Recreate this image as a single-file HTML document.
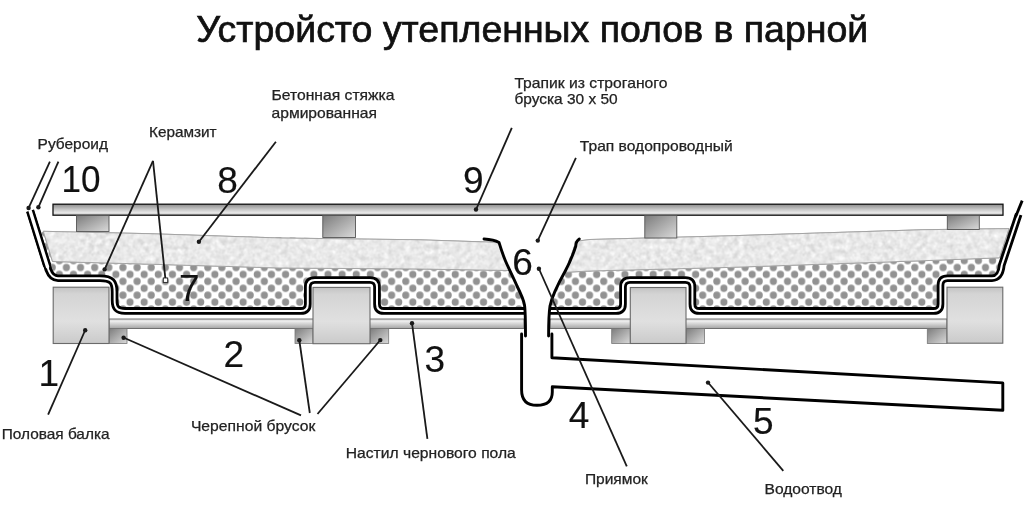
<!DOCTYPE html>
<html><head><meta charset="utf-8">
<style>
html,body{margin:0;padding:0;background:#fff;}
body{width:1024px;height:516px;overflow:hidden;}
svg{display:block;will-change:transform;}
text{font-family:"Liberation Sans",sans-serif;}
</style></head>
<body>
<svg width="1024" height="516" viewBox="0 0 1024 516">
<defs>
  <pattern id="dots" patternUnits="userSpaceOnUse" width="14.14" height="13.86" patternTransform="translate(66.4 267.5)">
    <rect width="14.14" height="13.86" fill="#fff"/>
    <circle cx="0" cy="0" r="3.6" fill="#929292"/>
    <circle cx="14.14" cy="0" r="3.6" fill="#929292"/>
    <circle cx="0" cy="13.86" r="3.6" fill="#929292"/>
    <circle cx="14.14" cy="13.86" r="3.6" fill="#929292"/>
    <circle cx="7.07" cy="6.93" r="3.6" fill="#929292"/>
  </pattern>
  <linearGradient id="plankG" x1="0" y1="0" x2="0" y2="1">
    <stop offset="0" stop-color="#8c8c8c"/>
    <stop offset="0.45" stop-color="#c4c4c4"/>
    <stop offset="0.75" stop-color="#e6e6e6"/>
    <stop offset="1" stop-color="#c8c8c8"/>
  </linearGradient>
  <linearGradient id="blockG" x1="0" y1="0" x2="1" y2="1">
    <stop offset="0" stop-color="#7c7c7c"/>
    <stop offset="1" stop-color="#dadada"/>
  </linearGradient>
  <linearGradient id="beamG" x1="0" y1="0" x2="0" y2="1">
    <stop offset="0" stop-color="#c2c2c2"/>
    <stop offset="0.12" stop-color="#d4d4d4"/>
    <stop offset="0.6" stop-color="#e0e0e0"/>
    <stop offset="1" stop-color="#cacaca"/>
  </linearGradient>
  <linearGradient id="boardG" x1="0" y1="0" x2="0" y2="1">
    <stop offset="0" stop-color="#d6d6d6"/>
    <stop offset="0.25" stop-color="#ececec"/>
    <stop offset="1" stop-color="#a4a4a4"/>
  </linearGradient>
  <filter id="noise" x="0" y="0" width="100%" height="100%" color-interpolation-filters="sRGB">
    <feTurbulence type="fractalNoise" baseFrequency="0.18" numOctaves="2" seed="7"/>
    <feColorMatrix type="matrix" values="0.33 0.33 0.33 0 0  0.33 0.33 0.33 0 0  0.33 0.33 0.33 0 0  0 0 0 0 1"/>
    <feComponentTransfer>
      <feFuncR type="linear" slope="0.35" intercept="0.74"/>
      <feFuncG type="linear" slope="0.35" intercept="0.74"/>
      <feFuncB type="linear" slope="0.35" intercept="0.74"/>
    </feComponentTransfer>
  </filter>
<clipPath id="concClip"><path d="M43.3 231.3 L150 233.7 L280 238 L420 239.8 L499 242.4 L505 260 L509 270.5 L420 269 L280 268 L150 264.2 L52.5 261.5 Z"/><path d="M576 241.3 L590 239.5 L730 235.8 L924 229.7 L1009 228.6 L999.5 257.8 L924 260.7 L730 267.4 L590 271 L566 272.3 Z"/></clipPath>
</defs>

<!-- Title -->
<text x="196.3" y="42.3" font-size="37" fill="#111" stroke="#111" stroke-width="0.7" textLength="672" lengthAdjust="spacingAndGlyphs">Устройсто утепленных полов в парной</text>

<!-- dots region left -->
<path d="M30.1 210.8 L48.5 270 Q51.5 278.2 58 278.2 L100 278.2 C112 278.2 114.6 282 114.6 292 L114.6 300 C114.6 308 117 310.9 125 310.9 L300.8 310.9 Q307.8 310.9 307.8 303.9 L307.8 287 Q307.8 280 314.8 280 L370 280 Q377 280 377 287 L377 303.9 Q377 310.9 384 310.9 L524 310.9 L524 300 L517 286 L505.5 261 L499 242 L37 232 Z" fill="url(#dots)"/>
<!-- dots region right -->
<path d="M549 310.9 L616 310.9 Q623 310.9 623 303.9 L623 287 Q623 280 630 280 L685.4 280 Q692.4 280 692.4 287 L692.4 303.9 Q692.4 310.9 699.4 310.9 L933.5 310.9 Q940.5 310.9 940.5 303.9 L940.5 285.2 Q940.5 278.2 947.5 278.2 L992 278.2 Q1000.5 278.2 1001.8 265 L1018.7 214.3 L1009 229 L575 241 L565 271 L552.6 297 Z" fill="url(#dots)"/>

<!-- concrete left -->
<path d="M43.3 231.3 L150 233.7 L280 238 L420 239.8 L499 242.4 L505 260 L509 270.5 L420 269 L280 268 L150 264.2 L52.5 261.5 Z" fill="#e7e7e7" stroke="#a0a0a0" stroke-width="0.9"/>
<!-- concrete right -->
<path d="M576 241.3 L590 239.5 L730 235.8 L924 229.7 L1009 228.6 L999.5 257.8 L924 260.7 L730 267.4 L590 271 L566 272.3 Z" fill="#e7e7e7" stroke="#a0a0a0" stroke-width="0.9"/>

<rect x="40" y="225" width="975" height="50" filter="url(#noise)" clip-path="url(#concClip)"/>
<path d="M43.3 231.3 L150 233.7 L280 238 L420 239.8 L499 242.4 L505 260 L509 270.5 L420 269 L280 268 L150 264.2 L52.5 261.5 Z" fill="none" stroke="#a0a0a0" stroke-width="0.9"/>
<path d="M576 241.3 L590 239.5 L730 235.8 L924 229.7 L1009 228.6 L999.5 257.8 L924 260.7 L730 267.4 L590 271 L566 272.3 Z" fill="none" stroke="#a0a0a0" stroke-width="0.9"/>

<!-- membrane left -->
<g fill="none" stroke-linejoin="round">
<path d="M30.1 210.8 L48.5 270 Q51.5 278.2 58 278.2 L100 278.2 C112 278.2 114.6 282 114.6 292 L114.6 300 C114.6 308 117 310.9 125 310.9 L300.8 310.9 Q307.8 310.9 307.8 303.9 L307.8 287 Q307.8 280 314.8 280 L370 280 Q377 280 377 287 L377 303.9 Q377 310.9 384 310.9 L524 310.9" stroke="#000" stroke-width="7.6"/>
<path d="M30.1 210.8 L48.5 270 Q51.5 278.2 58 278.2 L100 278.2 C112 278.2 114.6 282 114.6 292 L114.6 300 C114.6 308 117 310.9 125 310.9 L300.8 310.9 Q307.8 310.9 307.8 303.9 L307.8 287 Q307.8 280 314.8 280 L370 280 Q377 280 377 287 L377 303.9 Q377 310.9 384 310.9 L524 310.9 L525 310.9" stroke="#fff" stroke-width="2.0"/>
<path d="M549 310.9 L616 310.9 Q623 310.9 623 303.9 L623 287 Q623 280 630 280 L685.4 280 Q692.4 280 692.4 287 L692.4 303.9 Q692.4 310.9 699.4 310.9 L933.5 310.9 Q940.5 310.9 940.5 303.9 L940.5 285.2 Q940.5 278.2 947.5 278.2 L992 278.2 Q1000.5 278.2 1001.8 265 L1018.7 214.3" stroke="#000" stroke-width="7.6"/>
<path d="M548 310.9 549 310.9 L616 310.9 Q623 310.9 623 303.9 L623 287 Q623 280 630 280 L685.4 280 Q692.4 280 692.4 287 L692.4 303.9 Q692.4 310.9 699.4 310.9 L933.5 310.9 Q940.5 310.9 940.5 303.9 L940.5 285.2 Q940.5 278.2 947.5 278.2 L992 278.2 Q1000.5 278.2 1001.8 265 L1018.7 214.3 L1019 213.3" stroke="#fff" stroke-width="2.0"/>
<path d="M1015.5 217 L1022.2 200.6" stroke="#000" stroke-width="2.8"/>
<path d="M30.1 210.8 L47.2 265.8" stroke="#000" stroke-width="8.3"/>
<path d="M30.1 210.8 L47.5 266.8" stroke="#fff" stroke-width="3.4" stroke-linecap="round"/>
</g>

<!-- plank 9 -->
<rect x="53" y="204.2" width="950" height="11" fill="url(#plankG)" stroke="#111" stroke-width="1.3"/>
<!-- support blocks -->
<g fill="url(#blockG)" stroke="#555" stroke-width="0.9">
<rect x="76.5" y="215.5" width="32.5" height="16"/>
<rect x="322.8" y="215.5" width="32.7" height="22"/>
<rect x="644.8" y="215.5" width="32" height="22.5"/>
<rect x="947.3" y="215.5" width="32" height="14"/>
</g>

<!-- subfloor boards -->
<g fill="url(#boardG)" stroke="#666" stroke-width="0.9">
<rect x="109" y="319" width="415" height="9.5"/>
<rect x="550" y="319" width="397" height="9.5"/>
</g>
<!-- cranial bars -->
<g fill="url(#blockG)" stroke="#777" stroke-width="0.8">
<rect x="109" y="328.5" width="18" height="15"/>
<rect x="295" y="328.5" width="18" height="15"/>
<rect x="370" y="328.5" width="18.7" height="15"/>
<rect x="611.7" y="328.5" width="18.6" height="15"/>
<rect x="686" y="328.5" width="18.6" height="15"/>
<rect x="927.3" y="328.5" width="19.7" height="15"/>
</g>
<!-- beams -->
<g fill="url(#beamG)" stroke="#6a6a6a" stroke-width="1.1">
<rect x="53.2" y="287.2" width="55.8" height="56.3"/>
<rect x="313" y="287.4" width="57" height="56.3"/>
<rect x="630.3" y="287.5" width="55.7" height="56"/>
<rect x="947" y="287.2" width="55.8" height="56"/>
</g>

<!-- drain funnel & pipe -->
<g fill="none" stroke="#000" stroke-width="2.9" stroke-linecap="round" stroke-linejoin="round">
<path d="M484 239 Q494 239.5 499 242.4 C501 249 503 255 505.5 261 C508.5 268 513 277 517 286 C521 294 523.5 299 524.5 305 C525.5 312 525.5 322 525.5 336"/>
<path d="M579.3 239 Q576 241 575.8 246 C572 258 568 266 565 271.5 C558 284 552 296 550 306 C548.8 314 548.6 324 548.6 336"/>
<path d="M521.6 334 L521.6 390 Q521.6 405.3 537 405.3 Q552.3 405.3 552.3 392 L552.3 386.7 L1002.8 410.3 L1002.8 382.9 L551.9 357.8 L551.9 334"/>
</g>

<!-- leader lines -->
<g stroke="#1a1a1a" stroke-width="1.8" fill="none">
<line x1="49.9" y1="161.6" x2="28.2" y2="208.9"/>
<line x1="58.4" y1="161.6" x2="38" y2="208.1"/>
<line x1="153" y1="160.9" x2="104.2" y2="270.3"/>
<line x1="153" y1="160.9" x2="165.5" y2="279.8"/>
<line x1="275.9" y1="141.7" x2="198.6" y2="242.3"/>
<line x1="511.8" y1="127.8" x2="475.8" y2="210.2"/>
<line x1="575.9" y1="157.9" x2="537.4" y2="241.3"/>
<line x1="538.6" y1="268" x2="626.8" y2="466.4"/>
<line x1="707.6" y1="382" x2="783.3" y2="470.8"/>
<line x1="411.9" y1="322.4" x2="427.4" y2="438.8"/>
<line x1="85.5" y1="329.5" x2="48.1" y2="414.7"/>
<line x1="301" y1="415.4" x2="122.8" y2="337.3"/>
<line x1="309.8" y1="413" x2="299.2" y2="339.5"/>
<line x1="317.5" y1="414" x2="380.8" y2="339.5"/>
</g>
<g fill="#1a1a1a">
<circle cx="28.6" cy="208" r="2.2"/>
<circle cx="38.4" cy="207.2" r="2.2"/>
<circle cx="104.6" cy="269.4" r="2.2"/>
<circle cx="198.9" cy="241.8" r="2.2"/>
<circle cx="476" cy="209.5" r="2.2"/>
<circle cx="537.8" cy="240.6" r="2.2"/>
<circle cx="538.9" cy="268.7" r="2.2"/>
<circle cx="708" cy="382.6" r="2.2"/>
<circle cx="412" cy="323.2" r="2.2"/>
<circle cx="85.2" cy="330.3" r="2.2"/>
<circle cx="123.6" cy="337.7" r="2.2"/>
<circle cx="299.3" cy="340.3" r="2.2"/>
<circle cx="380.3" cy="340.1" r="2.2"/>
</g>
<rect x="163.3" y="278" width="4.4" height="4.4" fill="#fff" stroke="#222" stroke-width="0.9"/>

<!-- labels -->
<g font-size="14.5" fill="#222" stroke="#222" stroke-width="0.25">
<text x="37.6" y="149" textLength="70.4" lengthAdjust="spacingAndGlyphs">Рубероид</text>
<text x="149" y="136.8" textLength="67.6" lengthAdjust="spacingAndGlyphs">Керамзит</text>
<text x="271.5" y="100.4" textLength="123" lengthAdjust="spacingAndGlyphs">Бетонная стяжка</text>
<text x="271.5" y="117.6" textLength="105.5" lengthAdjust="spacingAndGlyphs">армированная</text>
<text x="514.4" y="88" textLength="153" lengthAdjust="spacingAndGlyphs">Трапик из строганого</text>
<text x="514.4" y="104.2" textLength="103.3" lengthAdjust="spacingAndGlyphs">бруска 30 х 50</text>
<text x="579.8" y="150.5" textLength="153" lengthAdjust="spacingAndGlyphs">Трап водопроводный</text>
<text x="1.7" y="438.9" textLength="107.9" lengthAdjust="spacingAndGlyphs">Половая балка</text>
<text x="190.9" y="431.3" textLength="124.5" lengthAdjust="spacingAndGlyphs">Черепной брусок</text>
<text x="345.8" y="458.3" textLength="170" lengthAdjust="spacingAndGlyphs">Настил чернового пола</text>
<text x="584.9" y="484" textLength="63" lengthAdjust="spacingAndGlyphs">Приямок</text>
<text x="764.5" y="493.7" textLength="77.4" lengthAdjust="spacingAndGlyphs">Водоотвод</text>
</g>
<!-- numbers -->
<g font-size="37" fill="#111" stroke="#111" stroke-width="0.15" text-anchor="middle">
<text x="80.9" y="191.8" textLength="39" lengthAdjust="spacingAndGlyphs">10</text>
<text x="227.5" y="192.5">8</text>
<text x="473.4" y="193.0">9</text>
<text x="189.2" y="301.1">7</text>
<text x="522.5" y="274.6">6</text>
<text x="48.9" y="385.6">1</text>
<text x="233.7" y="366.7">2</text>
<text x="434.8" y="372.2">3</text>
<text x="579.1" y="428.2">4</text>
<text x="763.2" y="433.5">5</text>
</g>
</svg>
</body></html>
